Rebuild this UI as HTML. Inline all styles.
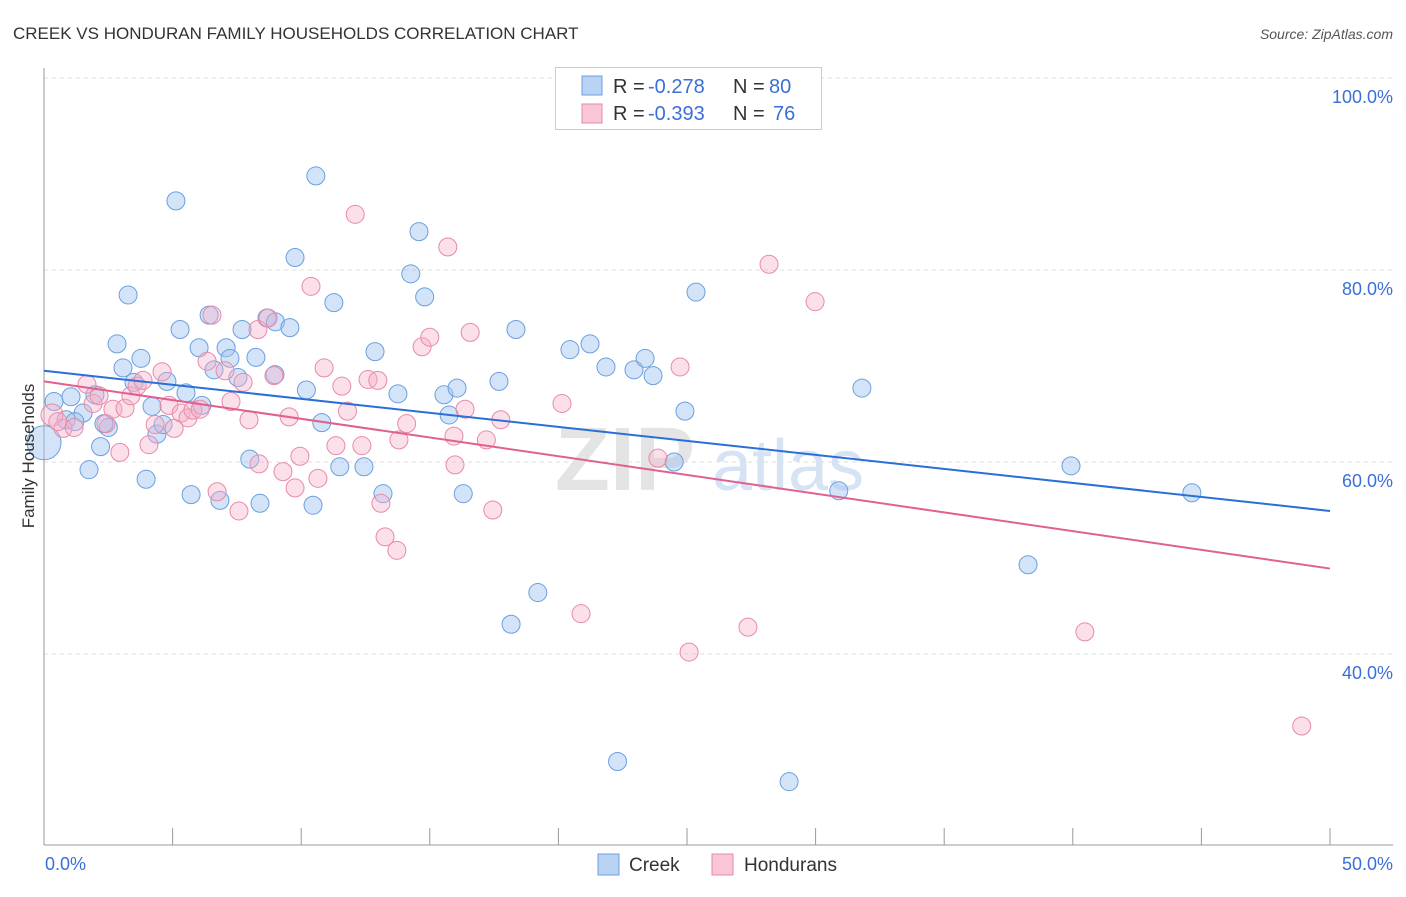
<!DOCTYPE html>
<html><head><meta charset="utf-8"><style>
body{margin:0;background:#fff;font-family:"Liberation Sans",sans-serif;}
svg text{font-family:"Liberation Sans",sans-serif;}
</style></head><body>
<svg id="chart" width="1406" height="892">
<text x="13" y="39" font-size="17" fill="#333">CREEK VS HONDURAN FAMILY HOUSEHOLDS CORRELATION CHART</text>
<text x="1393" y="39" font-size="14" fill="#555" font-style="italic" text-anchor="end">Source: ZipAtlas.com</text>
<g id="grid"></g>
<g><text x="555" y="490" font-size="90" font-family="Liberation Serif" font-weight="bold" fill="#e4e4e4">ZIP</text><text x="712" y="490" font-size="72" fill="#d6e3f5">atlas</text></g>
<g id="pts"></g>
<g id="lines"></g>
<text x="34" y="456" font-size="17" fill="#333" transform="rotate(-90 34 456)" text-anchor="middle">Family Households</text>
<text x="45" y="870" font-size="18" fill="#3a6fd8">0.0%</text>
<text x="1393" y="870" font-size="18" fill="#3a6fd8" text-anchor="end">50.0%</text>
<g>
<rect x="555.5" y="67.5" width="266" height="62" fill="#fff" stroke="#ccc"/>
<rect x="582" y="76" width="20" height="19" fill="#b9d3f5" stroke="#6a9fe0"/>
<rect x="582" y="104" width="20" height="19" fill="#f9c6d5" stroke="#e88aa8"/>
<text x="613" y="93" font-size="20" fill="#333">R =</text>
<text x="648" y="93" font-size="20" fill="#3a6fd8">-0.278</text>
<text x="733" y="93" font-size="20" fill="#333">N =</text>
<text x="769" y="93" font-size="20" fill="#3a6fd8">80</text>
<text x="613" y="120" font-size="20" fill="#333">R =</text>
<text x="648" y="120" font-size="20" fill="#3a6fd8">-0.393</text>
<text x="733" y="120" font-size="20" fill="#333">N =</text>
<text x="773" y="120" font-size="20" fill="#3a6fd8">76</text>
</g>
<g>
<rect x="598" y="854" width="21" height="21" fill="#b9d3f5" stroke="#6a9fe0"/>
<text x="629" y="871" font-size="19" fill="#333">Creek</text>
<rect x="712" y="854" width="21" height="21" fill="#f9c6d5" stroke="#e88aa8"/>
<text x="744" y="871" font-size="19" fill="#333">Hondurans</text>
</g>
</svg>
<script>
const yTicks=[100,80,60,40];
const xTickCount=10;
const creekX=[0.39,1.05,0.86,1.52,1.2,1.75,1.98,2.2,2.5,2.33,2.84,3.07,3.27,3.5,3.77,3.97,4.2,4.39,4.63,4.78,5.13,5.29,5.52,5.72,6.03,6.14,6.42,6.61,6.84,7.08,7.23,7.54,7.7,8.0,8.24,8.4,8.67,9.0,8.98,9.56,9.76,10.2,10.46,10.57,10.8,11.27,11.5,12.44,12.87,13.18,13.76,14.26,14.58,14.8,15.55,15.75,16.06,16.3,17.69,18.16,18.35,19.2,20.45,21.23,21.85,22.3,22.94,23.37,23.68,24.5,24.92,25.35,28.97,30.9,31.8,38.26,39.93,44.63,0];
const creekY=[66.3,66.8,64.4,65.1,64.2,59.2,67.0,61.6,63.6,64.0,72.3,69.8,77.4,68.3,70.8,58.2,65.8,62.9,63.9,68.4,87.2,73.8,67.2,56.6,71.9,65.9,75.3,69.6,56.0,71.9,70.8,68.8,73.8,60.3,70.9,55.7,75.0,74.6,69.1,74.0,81.3,67.5,55.5,89.8,64.1,76.6,59.5,59.5,71.5,56.7,67.1,79.6,84.0,77.2,67.0,64.9,67.7,56.7,68.4,43.1,73.8,46.4,71.7,72.3,69.9,28.8,69.6,70.8,69.0,60.0,65.3,77.7,26.7,57.0,67.7,49.3,59.6,56.8,62.0];
const hondX=[0.31,0.74,0.54,1.17,1.67,1.91,2.14,2.41,2.68,2.95,3.15,3.38,3.62,3.85,4.08,4.32,4.59,4.86,5.06,5.33,5.6,5.79,6.07,6.34,6.53,6.73,7.04,7.27,7.58,7.74,7.97,8.36,8.32,8.71,8.94,9.29,9.53,9.76,9.95,10.38,10.65,10.89,11.35,11.58,11.8,12.1,12.36,12.6,12.98,13.1,13.26,13.72,13.8,14.1,14.7,15.0,15.7,15.94,15.98,16.37,16.57,17.2,17.45,17.76,20.14,20.88,23.87,24.73,25.08,27.37,28.19,29.98,40.47,48.9];
const hondY=[64.9,63.5,64.2,63.6,68.1,66.1,66.9,64.0,65.5,61.0,65.6,66.9,67.9,68.5,61.8,63.9,69.4,65.9,63.5,65.1,64.6,65.4,65.5,70.5,75.3,56.9,69.5,66.3,54.9,68.3,64.4,59.8,73.8,75.0,69.0,59.0,64.7,57.3,60.6,78.3,58.3,69.8,61.7,67.9,65.3,85.8,61.7,68.6,68.5,55.7,52.2,50.8,62.3,64.0,72.0,73.0,82.4,62.7,59.7,65.5,73.5,62.3,55.0,64.4,66.1,44.2,60.4,69.9,40.2,42.8,80.6,76.7,42.3,32.5];
const creekTrend=[69.5,54.9];
const hondTrend=[68.4,48.9];
const NS="http://www.w3.org/2000/svg";
const xs=v=>44+v/50*1286;
const ys=v=>78+(100-v)*9.6;
function mk(tag,attrs,parent){const e=document.createElementNS(NS,tag);for(const k in attrs)e.setAttribute(k,attrs[k]);parent.appendChild(e);return e;}
const grid=document.getElementById('grid');
yTicks.forEach(t=>{
 const l=mk('line',{x1:44,x2:1393,y1:ys(t),y2:ys(t),stroke:'#ddd','stroke-dasharray':'4 4'},grid);
 
 
 const tx=mk('text',{x:1393,y:ys(t)+25,'font-size':18,fill:'#3a6fd8','text-anchor':'end'},grid);
 tx.textContent=t.toFixed(1)+'%';
 
 
});
const ax=mk('line',{x1:44,x2:44,y1:68,y2:845,stroke:'#999'},grid);


const bx=mk('line',{x1:44,x2:1393,y1:845,y2:845,stroke:'#999'},grid);


for(let i=1;i<=xTickCount;i++){
 const t=mk('line',{x1:xs(i*5),x2:xs(i*5),y1:828,y2:845,stroke:'#999'},grid);
 
 
}
const pts=document.getElementById('pts');
creekX.forEach((x,i)=>{
 const c=mk('circle',{cx:xs(x),cy:ys(creekY[i]),r:x===0?17:9,fill:'rgba(160,196,240,0.45)',stroke:'#6a9fe0','stroke-width':1},pts);
 
 
});
hondX.forEach((x,i)=>{
 const c=mk('circle',{cx:xs(x),cy:ys(hondY[i]),r:i===0?11:9,fill:'rgba(244,176,200,0.4)',stroke:'#e88aa8','stroke-width':1},pts);
 
 
});
const lines=document.getElementById('lines');
const l1=mk('line',{x1:xs(0),y1:ys(creekTrend[0]),x2:xs(50),y2:ys(creekTrend[1]),stroke:'#2a6fd6','stroke-width':2},lines);


const l2=mk('line',{x1:xs(0),y1:ys(hondTrend[0]),x2:xs(50),y2:ys(hondTrend[1]),stroke:'#e0608e','stroke-width':2},lines);


</script>
</body></html>
